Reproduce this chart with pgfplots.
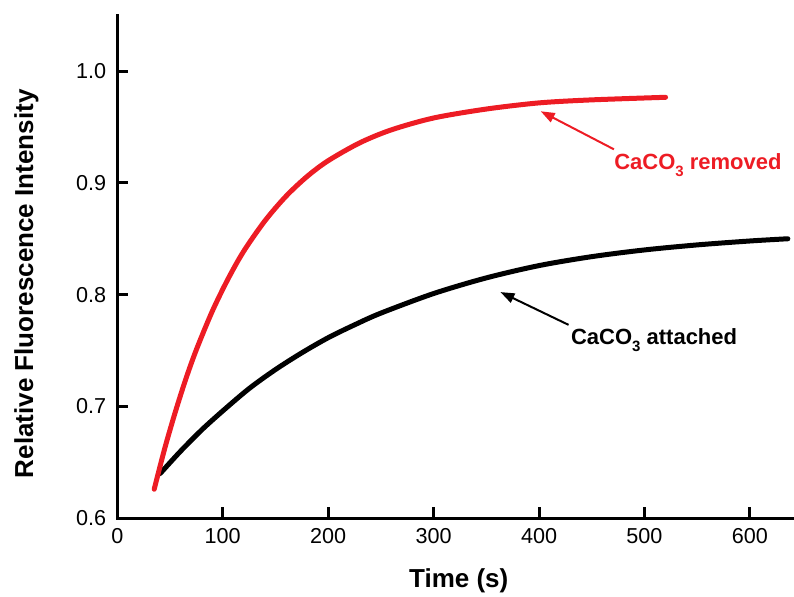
\documentclass[border=0pt]{standalone}
\usepackage{fontspec}
\setmainfont{Liberation Sans}
\usepackage{pgfplots}
\pgfplotsset{compat=1.18}
\usetikzlibrary{arrows.meta}
\definecolor{origred}{RGB}{237,28,36}
\newcommand{\sub}[1]{\raisebox{-0.55ex}{\fontsize{7.5}{8}\selectfont #1}}

\begin{document}
\begin{tikzpicture}
\path[use as bounding box] (-58.65pt,-38.85pt) rectangle (338.35pt,259.15pt);
\begin{axis}[
  at={(0,0)}, anchor=south west,
  scale only axis, width=337.4pt, height=251.6pt,
  xmin=0, xmax=640, ymin=0.6, ymax=1.05,
  clip=false,
  axis x line*=bottom, axis y line*=left,
  axis line style={line width=1.5pt, line cap=rect},
  tick align=inside, major tick length=5.5pt,
  every tick/.style={line width=1.5pt, black},
  xtick={0,100,200,300,400,500,600},
  ytick={0.6,0.7,0.8,0.9,1.0},
  minor tick num=0,
  ticklabel style={font=\fontsize{10.8}{12}\selectfont},
  /pgf/number format/assume math mode=true,
  yticklabel style={/pgf/number format/fixed, /pgf/number format/fixed zerofill,
    /pgf/number format/precision=1, xshift=-2pt},
  xticklabel style={yshift=-1.5pt},
  xlabel={Time (s)},
  ylabel={Relative Fluorescence Intensity},
  label style={font=\fontsize{13}{15}\selectfont\bfseries},
  xlabel style={at={(axis description cs:0.506,-0.1385)}, anchor=base},
  ylabel style={at={(axis description cs:-0.1249,0.466)}, anchor=base, rotate=0},
]
% CaCO3 attached
\addplot[black, line width=2.5pt, line cap=round, smooth] coordinates {
  (40.6,0.640) (60,0.660) (80,0.679) (100,0.696) (125,0.716) (150,0.733)
  (175,0.748) (200,0.7615) (225,0.773) (250,0.7835) (300,0.801) (350,0.815)
  (400,0.826) (450,0.834) (500,0.840) (550,0.8445) (600,0.848) (636,0.850)
};
% CaCO3 removed
\addplot[origred, line width=2.5pt, line cap=round, smooth] coordinates {
  (35,0.626) (45,0.6625) (55,0.695) (65,0.7246) (75,0.7508) (90,0.785)
  (105,0.814) (120,0.839) (140,0.866) (160,0.888) (180,0.9057) (200,0.9198)
  (230,0.9358) (260,0.9474) (300,0.958) (350,0.966) (400,0.9715)
  (450,0.9742) (520,0.9765)
};
\draw[origred, line width=1pt, -{Triangle[length=7pt,width=5pt]}]
  (axis cs:471,0.930) -- (axis cs:401.6,0.964);
\draw[black, line width=1pt, -{Triangle[length=7pt,width=5pt]}]
  (axis cs:428,0.773) -- (axis cs:363.4,0.8023);
\node[anchor=base west, inner sep=0pt, text=origred,
  font=\fontsize{11}{13}\selectfont\bfseries]
  at (axis cs:471,0.9118) {CaCO\sub{3} removed};
\node[anchor=base west, inner sep=0pt, text=black,
  font=\fontsize{11}{13}\selectfont\bfseries]
  at (axis cs:430,0.7552) {CaCO\sub{3} attached};
\end{axis}
\end{tikzpicture}
\end{document}
